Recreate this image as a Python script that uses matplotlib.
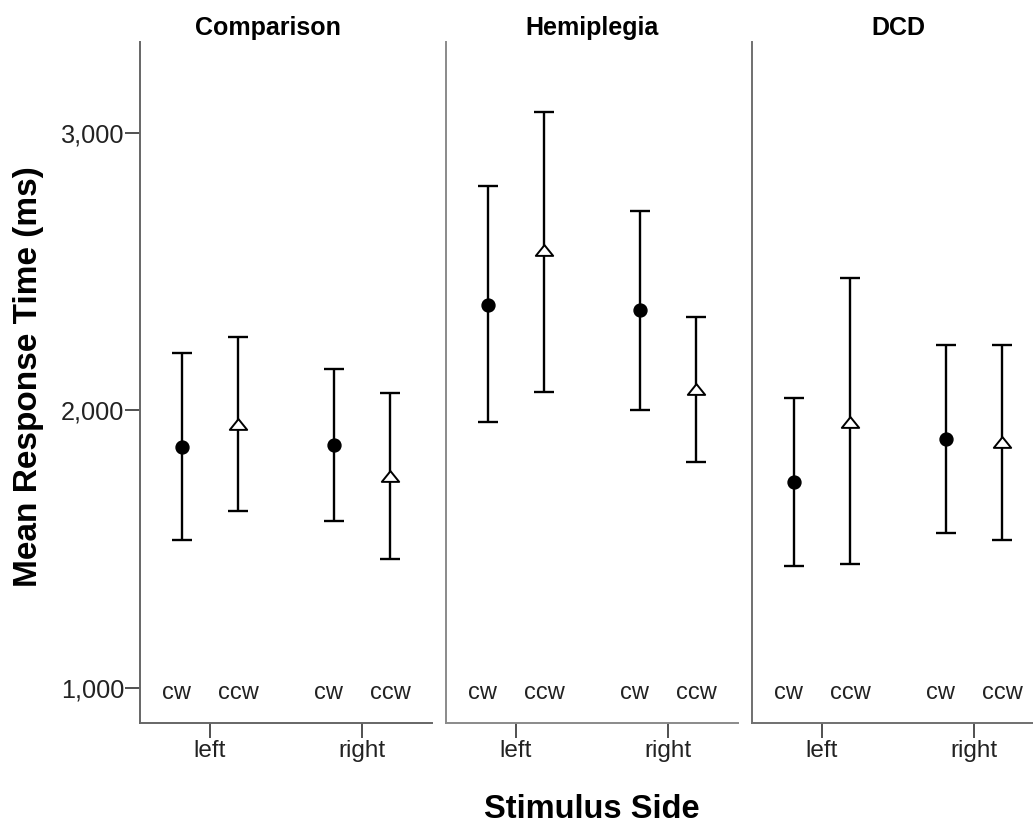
import matplotlib
matplotlib.use("Agg")
import matplotlib.pyplot as plt
from matplotlib.path import Path
import numpy as np

plt.rcParams['font.family'] = ['Liberation Sans', 'DejaVu Sans']

groups = ["Comparison", "Hemiplegia", "DCD"]
sides = ["left", "right"]
directions = ["cw", "ccw"]

# mean, lower CI, upper CI per group: order [left-cw, left-ccw, right-cw, right-ccw]
comparison_mean = [1868, 1952, 1875, 1764]
comparison_low = [1532, 1638, 1601, 1464]
comparison_high = [2205, 2263, 2150, 2064]

hemiplegia_mean = [2381, 2576, 2361, 2078]
hemiplegia_low = [1958, 2067, 2001, 1815]
hemiplegia_high = [2807, 3076, 2717, 2335]

dcd_mean = [1742, 1959, 1898, 1886]
dcd_low = [1440, 1445, 1560, 1533]
dcd_high = [2043, 2476, 2236, 2236]

yticks = [1000, 2000, 3000]
ytick_labels = ["1,000", "2,000", "3,000"]

data = [
    (comparison_mean, comparison_low, comparison_high),
    (hemiplegia_mean, hemiplegia_low, hemiplegia_high),
    (dcd_mean, dcd_low, dcd_high),
]

W, H = 1033, 826
fig = plt.figure(figsize=(W / 100, H / 100), dpi=100)

panel_lefts = [140, 446, 752]
panel_w = 292
bottom_px, top_px = 723, 42
title_x = [0.438, 0.5, 0.5]
ylim = (874, 3327)
offset = 0.184
text_col = "#222222"
spine_cols = ["#666666", "#8a8a8a", "#707070"]

tri = Path([(-1.0, -0.62), (1.0, -0.62), (0.0, 0.62), (-1.0, -0.62)],
           [Path.MOVETO, Path.LINETO, Path.LINETO, Path.CLOSEPOLY])

for gi, (gname, (mean, low, high)) in enumerate(zip(groups, data)):
    ax = fig.add_axes([panel_lefts[gi] / W, (H - bottom_px) / H,
                       panel_w / W, (bottom_px - top_px) / H])
    ax.set_xlim(-0.46, 1.46)
    ax.set_ylim(*ylim)
    k = 0
    for si, side in enumerate(sides):
        for di, d in enumerate(directions):
            x = si + (-offset if di == 0 else offset)
            m, lo, hi = mean[k], low[k], high[k]
            ax.errorbar([x], [m], yerr=[[m - lo], [hi - m]], fmt='none',
                        ecolor='black', elinewidth=1.7, capsize=7, capthick=1.7)
            if d == "cw":
                ax.plot([x], [m], marker='o', ms=9.3, color='black', mec='black', ls='none', zorder=5)
            else:
                ax.plot([x], [m], marker=tri, ms=12.5, mfc='white', mec='black', mew=1.4,
                        ls='none', zorder=5)
            dx = -4 if d == "cw" else 0
            ax.annotate(d, xy=(x, 1000), xytext=(dx, -3.5), textcoords='offset points',
                        ha='center', va='center', fontsize=17, color=text_col)
            k += 1
    for s in ['top', 'right']:
        ax.spines[s].set_visible(False)
    for s in ['left', 'bottom']:
        ax.spines[s].set_color(spine_cols[gi])
        ax.spines[s].set_linewidth(1.4)
    ax.set_xticks([0, 1])
    ax.set_xticklabels(sides, fontsize=17.5, color=text_col)
    ax.tick_params(axis='x', length=10.5, width=1.4, color='#505050', pad=2)
    if gi == 0:
        ax.set_yticks(yticks)
        ax.set_yticklabels(ytick_labels, fontsize=18.2, color=text_col)
        ax.tick_params(axis='y', length=10.5, width=1.4, color='#505050', pad=1)
    else:
        ax.set_yticks([])
    ax.text(title_x[gi], 1.0 + 14 / (bottom_px - top_px), gname, transform=ax.transAxes,
            ha='center', va='center', fontsize=18, fontweight='bold', color='black')

fig.text(29 / W, 1 - 377 / H, "Mean Response Time (ms)", rotation=90, ha='center', va='center',
         fontsize=24, fontweight='bold', color='black')
fig.text(592 / W, 1 - 809 / H, "Stimulus Side", ha='center', va='center',
         fontsize=23.5, fontweight='bold', color='black')

fig.savefig("out.png", dpi=100)
